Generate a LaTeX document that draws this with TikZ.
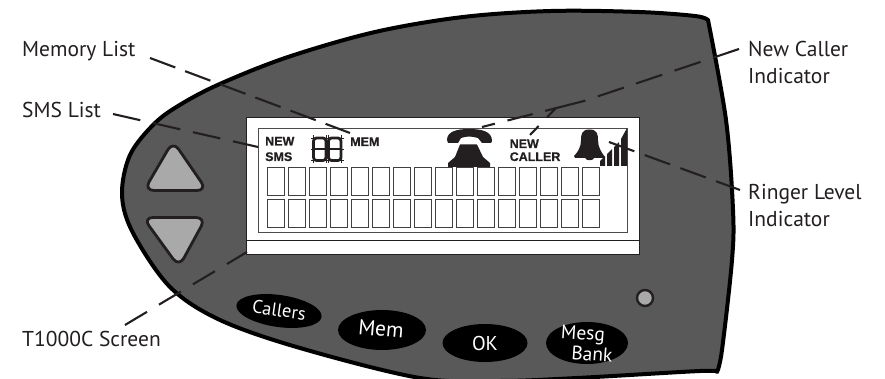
\documentclass[tikz,border=0pt]{standalone}
\usepackage{fontspec}
\setmainfont{PT Sans}
\newfontfamily\lcdfont[BoldFeatures={FakeBold=0.7}]{Liberation Sans}
\usetikzlibrary{calc,shapes.geometric}
\definecolor{body}{HTML}{595959}
\definecolor{ink}{HTML}{231F20}
\definecolor{btn}{HTML}{A9A9A9}
\tikzset{
 leader/.style={draw=ink,line width=2.1pt},
 callout/.style={font=\fontsize{21.5}{27}\selectfont,text=ink,inner sep=0pt,align=left,anchor=north west},
 keycap/.style={ellipse,fill=black,inner sep=0pt},
 keytext/.style={text=white,inner sep=0pt},
 arrowkey/.style={fill=btn,draw=ink,line width=2.8pt,line join=round,rounded corners=10pt},
 lcd/.style={font=\lcdfont\bfseries\fontsize{12.5}{12.5}\selectfont,text=ink,inner sep=0pt,anchor=base west},
 cell/.style={draw=black!75,line width=.8pt,fill=white},
 pixel/.style={fill=ink,draw=none},
}
\begin{document}
\begin{tikzpicture}[x=1pt,y=-1pt]
\clip (0,0) rectangle (885,379);
\fill[white] (0,0) rectangle (885,379);
% body
\draw[fill=body,draw=black,line width=4pt,line join=round]
  plot[smooth,tension=.55] coordinates {(708,20) (726,120) (733,210) (732,260) (722,350) (717,372)}
  -- plot[smooth,tension=.55] coordinates {(717,372) (700,371) (577,378) (500,381) (420,378) (300,348) (220,320) (170,287) (133,233) (122,195) (130,155) (155,123) (183,103) (222,83) (288,57) (375,32) (463,17) (551,11) (639,12) (695,16) (708,20)} -- cycle;
% screen
\draw[fill=white,draw=ink,line width=1pt] (246,118) rectangle (639,254);
\draw[draw=ink,line width=1pt] (246,240) -- (639,240);
\draw[draw=black!70,line width=1pt] (258,129) rectangle (627,233);
\foreach \i in {0,...,15}{
  \draw[cell] ({267+21*\i},167) rectangle ++(17,28.5);
  \draw[cell] ({267+21*\i},199.5) rectangle ++(17,28);
}
% LCD
\node[lcd] (newsms) at (265,145.5) {NEW};
\node[lcd] (sms) at (265,161) {SMS};
\node[lcd] (mem) at (350,146) {MEM};
\node[lcd] (newc) at (509.5,148) {NEW};
\node[lcd] (caller) at (509.5,161) {CALLER};
\draw[draw=ink,line width=2.8pt,rounded corners=3pt] (313.5,138) rectangle (326,160.5) (328.5,138) rectangle (341,160.5);
\draw[draw=ink,line width=2.6pt] (313,149) -- (326,149) (328.5,149) -- (341,149);
\draw[draw=ink,line width=.8pt]
  (311,138) -- (344,138) (311,149) -- (344,149) (311,160.5) -- (344,160.5)
  (313.5,135.5) -- (313.5,163) (326,135.5) -- (326,163) (328.5,135.5) -- (328.5,163) (341,135.5) -- (341,163);
% telephone
\fill[pixel] (447,140) .. controls (447,131) and (458,129) .. (469,129) .. controls (481,129) and (492,131) .. (492,141) -- (491,143) -- (482,143) -- (478,138) .. controls (470,136) and (468,136) .. (461,138) -- (458,143) -- (448,143) -- cycle;
\fill[pixel] (460,144.5) -- (477,144.5) -- (483,157) -- (490,163) -- (490,167) -- (448,167) -- (448,163) -- (455,157) -- cycle;
% bell
\fill[pixel] (589.5,129.5) .. controls (597,129.5) and (598,134) .. (598,140) .. controls (598,147) and (601,152) .. (605,157) -- (604,158) -- (594,158) .. controls (593,161) and (586,161) .. (585,158) -- (575,158) -- (574,156) .. controls (578,152) and (581,147) .. (581,140) .. controls (581,134) and (582,129.5) .. (589.5,129.5) -- cycle;
% bars
\fill[pixel] (600,166) -- (600,161) -- (605,156) -- (605,166) -- cycle;
\fill[pixel] (607,166) -- (607,154) -- (612,149) -- (612,166) -- cycle;
\fill[pixel] (614,166) -- (614,147) -- (619,142) -- (619,166) -- cycle;
\fill[pixel] (621,166) -- (621,139) -- (627,128) -- (627,166) -- cycle;
% arrow keys
\path[arrowkey] (173,141) -- (207,190.5) -- (144,190.5) -- cycle;
\path[arrowkey] (143,217.5) -- (206,217.5) -- (179,267) -- cycle;
% LED
\draw[fill=btn,draw=ink,line width=2.4pt] (645,298) circle (8);
% keycaps
\node[keycap,minimum width=86pt,minimum height=32pt,rotate=-8] (kcallers) at (279,311) {};
\node[keytext,rotate=-8,font=\fontsize{18.5}{19}\selectfont] (tcallers) at (279,310) {Callers};
\node[keycap,minimum width=88pt,minimum height=40pt] (kmem) at (382,330) {};
\node[keytext,rotate=-5,font=\fontsize{21.5}{22}\selectfont] (tmem) at (381,329) {Mem};
\node[keycap,minimum width=85pt,minimum height=38pt] (kok) at (485,343) {};
\node[keytext,font=\fontsize{20}{20}\selectfont] (tok) at (485,343) {OK};
\node[keycap,minimum width=82pt,minimum height=42pt] (kmesg) at (587,343) {};
\node[keytext,font=\fontsize{19.5}{20}\selectfont,rotate=-4] (tmesg) at (583,335) {Mesg};
\node[keytext,font=\fontsize{19.5}{20}\selectfont,rotate=-4] (tbank) at (592,354) {Bank};
% labels
\node[callout] (lmem) at (22,41) {Memory List};
\node[callout] (lsms) at (22,101.5) {SMS List};
\node[callout] (lscreen) at (22,331) {T1000C Screen};
\node[callout] (lnew) at (748,41) {New Caller\\Indicator};
\node[callout] (lring) at (748,184) {Ringer Level\\Indicator};
% leaders
\coordinate (mA) at (150,58); \coordinate (mB) at (350,133);
\coordinate (sA) at (113,114); \coordinate (sB) at (258,147);
\coordinate (tA) at (125,325); \coordinate (tB) at (247,252);
\coordinate (nA) at (739,49); \coordinate (nB) at (584,101); \coordinate (nC) at (482,127);
\coordinate (nD) at (556,108); \coordinate (nE) at (530,135);
\coordinate (rA) at (740,190); \coordinate (rB) at (609,142);
\draw[leader,dash pattern=on 27pt off 10.5pt] (mA) -- (mB);
\draw[leader,dash pattern=on 28pt off 13pt] (sA) -- (sB);
\draw[leader,dash pattern=on 25.6pt off 14pt] (tA) -- (tB);
\draw[leader,dash pattern=on 27.5pt off 13pt] (nA) -- (nB);
\draw[leader,dash pattern=on 40pt off 13pt on 26pt off 13pt on 13.5pt off 50pt] (nB) -- (nC);
\draw[leader,dash pattern=on 13pt off 12pt] (nD) -- (nE);
\draw[leader,dash pattern=on 27pt off 11pt] (rB) -- (rA);
\end{tikzpicture}
\end{document}
